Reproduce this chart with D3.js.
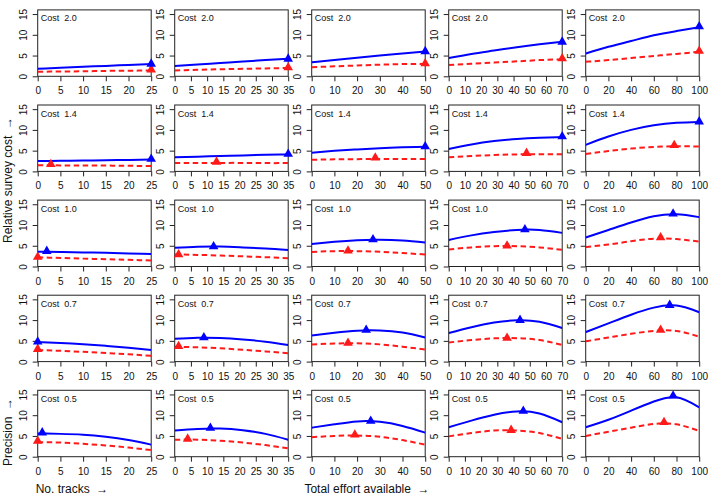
<!DOCTYPE html>
<html><head><meta charset="utf-8">
<script src="https://cdn.jsdelivr.net/npm/d3@7"></script>
<style>
html,body{margin:0;padding:0;background:#fff;}
text{font-family:"Liberation Sans",Arial,sans-serif;fill:#111;}
</style></head>
<body>
<svg id="chart" width="709" height="498"></svg>
<script>
// ---- data ----
const costs = ["2.0", "1.4", "1.0", "0.7", "0.5"];
const xMax = [25, 35, 50, 70, 100];
const xTicks = [
  [0, 5, 10, 15, 20, 25],
  [0, 5, 10, 15, 20, 25, 30, 35],
  [0, 10, 20, 30, 40, 50],
  [0, 10, 20, 30, 40, 50, 60, 70],
  [0, 20, 40, 60, 80, 100]
];
const yTicks = [0, 5, 10, 15];
// sample x positions per column
const xSamples = [
  [0, 5, 10, 15, 20, 25],
  [0, 7, 14, 21, 28, 35],
  [0, 10, 20, 30, 40, 50],
  [0, 14, 28, 42, 56, 70],
  [0, 20, 40, 60, 80, 100]
];
// precision (solid, blue) per row [cost] per column
const bluePrecision = [
  [[1.8,2.05,2.3,2.5,2.75,2.95],[2.5,2.85,3.2,3.55,3.9,4.2],[3.4,3.9,4.45,5.0,5.5,6.0],[4.4,5.4,6.2,7.0,7.7,8.3],[5.5,7.1,8.5,9.9,10.9,11.8]],
  [[2.5,2.55,2.6,2.7,2.75,2.85],[3.4,3.55,3.7,3.85,4.0,4.1],[4.5,4.95,5.3,5.6,5.8,5.95],[5.4,6.5,7.3,7.8,8.1,8.3],[6.4,8.4,10.0,11.1,11.7,11.9]],
  [[3.55,3.5,3.4,3.3,3.15,3.0],[4.5,4.75,4.8,4.6,4.35,4.0],[5.4,5.95,6.35,6.45,6.25,5.8],[6.4,7.5,8.3,8.8,8.8,8.1],[7.0,8.8,10.6,12.1,12.6,11.9]],
  [[4.7,4.5,4.2,3.8,3.35,2.8],[5.5,5.75,5.7,5.35,4.8,4.0],[6.3,6.95,7.45,7.5,7.0,5.8],[6.9,8.3,9.4,9.95,9.6,8.1],[7.1,9.2,11.3,13.0,13.5,11.9]],
  [[5.6,5.5,5.3,4.8,4.0,2.9],[6.3,6.7,6.8,6.4,5.5,4.1],[7.0,7.8,8.5,8.4,7.4,5.8],[7.1,8.7,10.1,10.9,10.4,8.3],[7.1,8.9,11.1,13.3,14.3,11.9]]
];
// precision (dashed, red)
const redPrecision = [
  [[1.1,1.15,1.2,1.3,1.35,1.4],[1.4,1.55,1.7,1.8,1.9,2.0],[2.2,2.4,2.6,2.8,2.95,3.0],[2.7,3.0,3.3,3.6,3.9,4.1],[3.5,3.9,4.4,4.9,5.4,5.9]],
  [[1.5,1.45,1.4,1.4,1.35,1.3],[2.0,2.05,2.05,2.05,2.0,2.0],[2.8,2.9,2.95,3.0,3.0,3.0],[3.4,3.7,3.95,4.1,4.15,4.15],[4.2,4.9,5.5,5.9,6.05,6.0]],
  [[2.2,2.05,1.9,1.75,1.6,1.45],[2.9,2.8,2.65,2.45,2.25,2.0],[3.5,3.7,3.7,3.55,3.25,2.9],[4.1,4.6,4.9,4.9,4.6,4.0],[4.7,5.3,6.1,6.7,6.6,6.0]],
  [[2.8,2.6,2.35,2.05,1.75,1.4],[3.6,3.45,3.2,2.85,2.45,2.0],[4.1,4.35,4.4,4.15,3.6,2.9],[4.6,5.2,5.6,5.65,5.2,4.0],[4.9,5.8,6.7,7.4,7.4,6.0]],
  [[3.5,3.4,3.1,2.7,2.2,1.6],[4.1,4.1,3.85,3.4,2.8,2.0],[4.7,5.0,5.1,4.8,4.0,2.9],[4.9,5.7,6.3,6.3,5.7,4.3],[5.0,6.0,7.0,7.9,7.8,6.2]]
];
// optimum markers [x, y]
const blueOptimum = [
  [[25,3.0],[35,4.2],[50,6.0],[70,8.3],[100,12.0]],
  [[25,3.0],[35,4.2],[50,6.0],[70,8.4],[100,12.0]],
  [[2,3.7],[12,4.8],[27,6.5],[47,8.9],[77,12.7]],
  [[0,4.8],[9,5.8],[24,7.6],[44,10.0],[74,13.6]],
  [[1,5.8],[11,6.9],[26,8.6],[46,11.0],[77,14.7]]
];
const redOptimum = [
  [[25,1.6],[35,2.1],[50,3.1],[70,4.3],[100,6.1]],
  [[2.9,1.7],[12.9,2.3],[28,3.3],[48,4.4],[78,6.3]],
  [[0,2.3],[1.2,2.9],[16,3.8],[36,5.0],[66,7.0]],
  [[0,3.0],[1.2,3.7],[16,4.5],[36,5.7],[66,7.6]],
  [[0,3.8],[4,4.3],[19,5.3],[38.5,6.4],[69,8.3]]
];

// ---- layout ----
const svg = d3.select("#chart");
const boxW = 113.5, colStep = 137, left0 = 37.7;
const boxH = 66.4, rowStep = 95.1, bottom0 = 76.3;
const blue = "#0000ff", red = "#ff1a1a";
const tri = d3.symbol().type(d3.symbolTriangle).size(40);
const FONT = "Liberation Sans, Arial, sans-serif";

costs.forEach((cost, r) => {
  xMax.forEach((xm, c) => {
    const x0 = left0 + c * colStep;
    const yb = bottom0 + r * rowStep;
    const g = svg.append("g");
    const x = d3.scaleLinear().domain([0, xm]).range([x0, x0 + boxW]);
    const y = d3.scaleLinear().domain([0, 16]).range([yb, yb - boxH]);

    const xAxis = d3.axisBottom(x).tickValues(xTicks[c]).tickSize(5).tickPadding(6).tickFormat(d3.format("d"));
    const ax = g.append("g").attr("transform", `translate(0,${yb})`).call(xAxis);
    ax.select(".domain").remove();
    ax.selectAll("line").attr("stroke", "#222");
    ax.selectAll("text").attr("font-size", 10).attr("fill", "#111").attr("font-family", FONT);

    const yAxis = d3.axisLeft(y).tickValues(yTicks).tickSize(5).tickPadding(3);
    const ay = g.append("g").attr("transform", `translate(${x0},0)`).call(yAxis);
    ay.select(".domain").remove();
    ay.selectAll("line").attr("stroke", "#222");
    ay.selectAll("text")
      .attr("font-size", 10).attr("fill", "#111").attr("font-family", FONT)
      .attr("text-anchor", "middle").attr("dy", null)
      .attr("transform", "rotate(-90)")
      .attr("x", 0).attr("y", -10.5);

    g.append("rect").attr("x", x0).attr("y", yb - boxH).attr("width", boxW).attr("height", boxH)
      .attr("fill", "none").attr("stroke", "#222").attr("stroke-width", 1);

    const clipId = `clip${r}_${c}`;
    g.append("clipPath").attr("id", clipId).append("rect")
      .attr("x", x0).attr("y", yb - boxH).attr("width", boxW).attr("height", boxH);

    const line = d3.line().x(d => x(d[0])).y(d => y(d[1])).curve(d3.curveNatural);
    const bPts = xSamples[c].map((xv, i) => [xv, bluePrecision[r][c][i]]);
    const rPts = xSamples[c].map((xv, i) => [xv, redPrecision[r][c][i]]);
    const lg = g.append("g").attr("clip-path", `url(#${clipId})`);
    lg.append("path").attr("d", line(rPts)).attr("fill", "none").attr("stroke", red)
      .attr("stroke-width", 2).attr("stroke-dasharray", "5.5,3.5");
    lg.append("path").attr("d", line(bPts)).attr("fill", "none").attr("stroke", blue)
      .attr("stroke-width", 2);

    const bo = blueOptimum[r][c], ro = redOptimum[r][c];
    g.append("path").attr("d", tri).attr("fill", red)
      .attr("transform", `translate(${x(ro[0])},${y(ro[1])})`);
    g.append("path").attr("d", tri).attr("fill", blue)
      .attr("transform", `translate(${x(bo[0])},${y(bo[1])})`);

    g.append("text").attr("x", x0 + 3).attr("y", yb - boxH + 11.5)
      .attr("font-size", 9).attr("style", "white-space:pre")
      .text("Cost  " + cost);
  });
});

// outer labels
svg.append("text").attr("transform", "translate(12,180) rotate(-90)")
  .attr("text-anchor", "middle").attr("font-size", 12).attr("style", "white-space:pre")
  .text("Relative survey cost  →");
svg.append("text").attr("transform", "translate(12,432) rotate(-90)")
  .attr("text-anchor", "middle").attr("font-size", 12).attr("style", "white-space:pre")
  .text("Precision  →");
svg.append("text").attr("x", 72).attr("y", 493)
  .attr("text-anchor", "middle").attr("font-size", 12).attr("style", "white-space:pre")
  .text("No. tracks  →");
svg.append("text").attr("x", 367).attr("y", 493)
  .attr("text-anchor", "middle").attr("font-size", 12).attr("style", "white-space:pre")
  .text("Total effort available  →");
</script>
</body></html>
